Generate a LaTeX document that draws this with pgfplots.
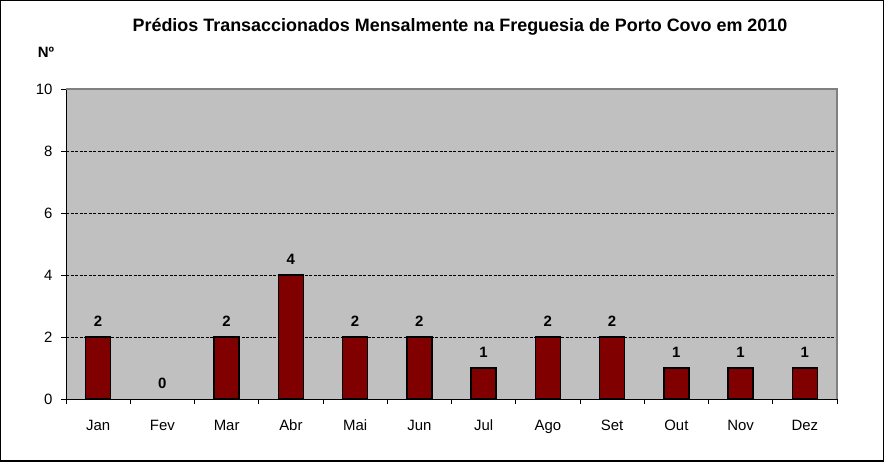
\documentclass[border=0pt]{standalone}
\usepackage{fontspec}
\setmainfont{Liberation Sans}
\usepackage{pgfplots}
\pgfplotsset{compat=1.18}
\definecolor{plotbg}{HTML}{C0C0C0}
\definecolor{barred}{HTML}{800000}
\definecolor{framegray}{HTML}{808080}
\begin{document}
\begin{tikzpicture}[x=1bp,y=1bp]
\draw[line width=1.5bp] (0.75,0.75) rectangle (883.25,461.25);
\node[font=\bfseries\fontsize{18}{20}\selectfont] at (460,435) {Prédios Transaccionados Mensalmente na Freguesia de Porto Covo em 2010};
\node[font=\bfseries\fontsize{15}{17}\selectfont] at (46,410) {Nº};
\begin{axis}[
  at={(66bp,63bp)}, anchor=south west, scale only axis,
  width=771bp, height=310bp,
  xmin=0, xmax=12, ymin=0, ymax=10,
  axis background/.style={fill=plotbg},
  axis x line*=bottom, axis y line*=left,
  axis line style={-, line width=0.8bp, black},
  xtick={0,...,12},
  xticklabels={Jan,Fev,Mar,Abr,Mai,Jun,Jul,Ago,Set,Out,Nov,Dez},
  x tick label as interval,
  ytick={0,2,...,10},
  tick align=outside, major tick length=5bp,
  tick style={black, line width=0.8bp},
  ymajorgrids,
  grid style={black, line width=0.6bp, dash pattern=on 3bp off 1.5bp},
  ticklabel style={font=\fontsize{15}{17}\selectfont},
  /pgf/number format/assume math mode=true,
  xticklabel style={yshift=-12bp, text height=11bp, text depth=3bp},
  yticklabel style={xshift=-5bp},
  ybar, bar width=25bp, bar shift=0pt,
  nodes near coords,
  nodes near coords style={font=\bfseries\fontsize{15}{17}\selectfont, text=black, yshift=7bp},
  clip=false,
]
\addplot[fill=barred, draw=black, line width=1.3bp] coordinates {
 (0.5,2) (2.5,2) (3.5,4) (4.5,2) (5.5,2)
 (6.5,1) (7.5,2) (8.5,2) (9.5,1) (10.5,1) (11.5,1)};
\addplot[draw=none, fill=none] coordinates {(1.5,0)};
\draw[framegray, line width=2bp] (rel axis cs:0,1) -- (rel axis cs:1,1) -- (rel axis cs:1,0);
\end{axis}
\end{tikzpicture}
\end{document}
